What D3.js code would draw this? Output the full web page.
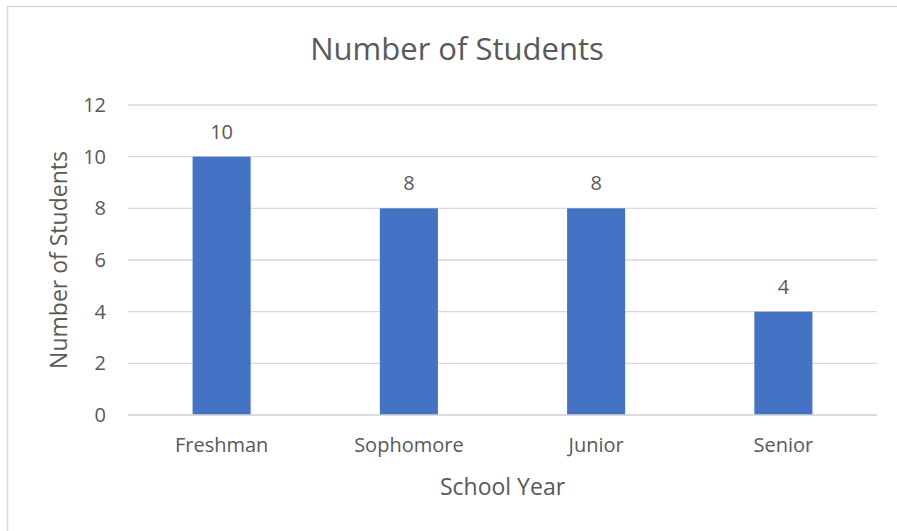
<!DOCTYPE html>
<html><head><meta charset="utf-8">
<script src="https://cdn.jsdelivr.net/npm/d3@7"></script>
<style>body{margin:0;background:#fff;}svg{display:block;}text{font-family:"Open Sans",sans-serif;fill:#595959;}</style>
</head><body>
<script>
const categories = ["Freshman","Sophomore","Junior","Senior"];
const values = [10, 8, 8, 4];
const yTicks = [0,2,4,6,8,10,12];
const title = "Number of Students";
const xTitle = "School Year";
const yTitle = "Number of Students";

const W=897,H=531;
const svg=d3.select("body").append("svg").attr("width",W).attr("height",H);
svg.append("rect").attr("x",7.5).attr("y",6.5).attr("width",W).attr("height",H).attr("fill","#fff").attr("stroke","#d9d9d9").attr("stroke-width",1.5);

const x=d3.scaleBand().domain(categories).range([128,877]).paddingInner(0.69).paddingOuter(0.345);
const y=d3.scaleLinear().domain([0,12]).range([415,105]);

svg.append("g").selectAll("line").data(yTicks).join("line")
 .attr("x1",128).attr("x2",877).attr("y1",d=>y(d)).attr("y2",d=>y(d))
 .attr("stroke","#d9d9d9").attr("stroke-width",1.3);

const yAxis=d3.axisLeft(y).tickValues(yTicks).tickSize(0).tickPadding(0);
const ga=svg.append("g").attr("transform","translate(106,0)").call(yAxis);
ga.select(".domain").remove();
ga.selectAll("text").style("font-size","20px").attr("fill","#595959").style("font-family","Open Sans");

svg.append("g").selectAll("rect").data(values).join("rect")
 .attr("x",(d,i)=>x(categories[i])).attr("width",x.bandwidth())
 .attr("y",d=>y(d)).attr("height",d=>y(0)-y(d)).attr("fill","#4472C4");

svg.append("g").selectAll("text").data(values).join("text")
 .attr("x",(d,i)=>x(categories[i])+x.bandwidth()/2).attr("y",d=>y(d)-18)
 .attr("text-anchor","middle").style("font-size","20px").text(d=>d);

const xAxis=d3.axisBottom(x).tickSize(0).tickPadding(0);
const gx=svg.append("g").attr("transform","translate(0,438)").call(xAxis);
gx.select(".domain").remove();
gx.selectAll("text").style("font-size","20px").attr("fill","#595959").style("font-family","Open Sans");
svg.append("line").attr("x1",128).attr("x2",877).attr("y1",y(0)).attr("y2",y(0)).attr("stroke","#d9d9d9").attr("stroke-width",1.3);

svg.append("text").attr("x",457).attr("y",60).attr("text-anchor","middle").style("font-size","31px").text(title);
svg.append("text").attr("x",502.5).attr("y",495).attr("text-anchor","middle").style("font-size","23px").text(xTitle);
svg.append("text").attr("transform","translate(67,260) rotate(-90)").attr("text-anchor","middle").style("font-size","23px").text(yTitle);
</script>
</body></html>
